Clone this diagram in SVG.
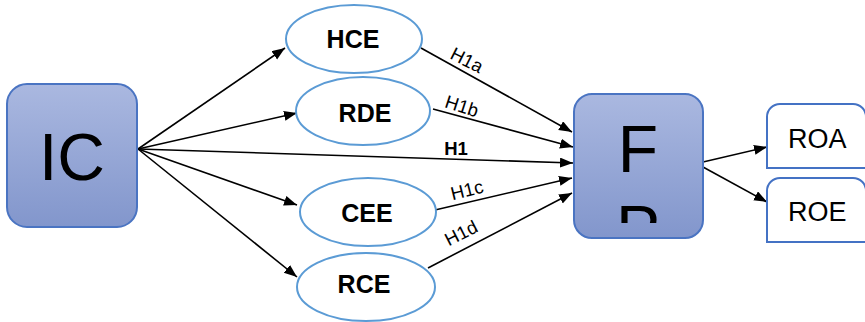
<svg xmlns="http://www.w3.org/2000/svg" width="865" height="322" viewBox="0 0 865 322">
<defs>
<linearGradient id="bg" x1="0" y1="0" x2="0" y2="1">
<stop offset="0" stop-color="#aab8e0"/>
<stop offset="1" stop-color="#8296cc"/>
</linearGradient>
<marker id="ah" markerUnits="userSpaceOnUse" markerWidth="14" markerHeight="12" refX="13" refY="5" orient="auto">
<path d="M0,0 L13,5 L0,10 z" fill="#000"/>
</marker>
<clipPath id="fclip"><rect x="574" y="94" width="130" height="129"/></clipPath>
<style>
.box{fill:url(#bg);stroke:#4a74c2;stroke-width:2}
.ell{fill:#fff;stroke:#5b9bd5;stroke-width:2}
.out{fill:#fff;stroke:#4472c4;stroke-width:2}
.big{font-family:"Liberation Sans",Arial,sans-serif;font-size:66px;fill:#000}
.nl{font-family:"Liberation Sans",Arial,sans-serif;font-size:25px;font-weight:bold;fill:#000;text-anchor:middle}
.ol{font-family:"Liberation Sans",Arial,sans-serif;font-size:27px;fill:#000}
.hl{font-family:"Liberation Sans",Arial,sans-serif;font-size:18.5px;fill:#000;text-anchor:middle}
.cn line{stroke:#000;stroke-width:1.6;marker-end:url(#ah)}
</style>
</defs>
<rect width="865" height="322" fill="#fff"/>
<g class="cn" id="connectors">
<line x1="138" y1="149" x2="285" y2="48"/>
<line x1="138" y1="149" x2="297" y2="113"/>
<line x1="138" y1="149" x2="573" y2="163"/>
<line x1="138" y1="149" x2="297" y2="205"/>
<line x1="138" y1="149" x2="297" y2="277"/>
<line x1="421" y1="48" x2="572" y2="132"/>
<line x1="433" y1="109" x2="573" y2="147"/>
<line x1="435" y1="210" x2="572" y2="178"/>
<line x1="428" y1="268" x2="572" y2="193"/>
<line x1="703" y1="162" x2="767" y2="147"/>
<line x1="703" y1="167" x2="767" y2="202"/>
<text class="hl" transform="translate(467,60) rotate(27)" dominant-baseline="central">H1a</text>
<text class="hl" transform="translate(462,106) rotate(18)" dominant-baseline="central">H1b</text>
<text class="hl" x="456" y="155" font-weight="bold" font-size="19.5">H1</text>
<text class="hl" transform="translate(467,190) rotate(-14)" dominant-baseline="central">H1c</text>
<text class="hl" transform="translate(461,233) rotate(-27)" dominant-baseline="central">H1d</text>
</g>
<g id="IC">
<rect class="box" x="7" y="84" width="130" height="143" rx="20"/>
<text class="big" x="72" y="180" text-anchor="middle">IC</text>
</g>
<g id="HCE">
<ellipse class="ell" cx="354" cy="39" rx="68" ry="34"/>
<text class="nl" x="353" y="48">HCE</text>
</g>
<g id="RDE">
<ellipse class="ell" cx="363" cy="111" rx="67" ry="34"/>
<text class="nl" x="365" y="122">RDE</text>
</g>
<g id="CEE">
<ellipse class="ell" cx="368" cy="212" rx="68" ry="34"/>
<text class="nl" x="367" y="222">CEE</text>
</g>
<g id="RCE">
<ellipse class="ell" cx="366" cy="287" rx="69" ry="34"/>
<text class="nl" x="364" y="293">RCE</text>
</g>
<g id="FP">
<rect class="box" x="574" y="94" width="129" height="144" rx="18"/>
<text class="big" x="638" y="172" text-anchor="middle" font-size="65">F</text>
<text class="big" x="638" y="252" text-anchor="middle" font-size="65" clip-path="url(#fclip)">P</text>
</g>
<g id="ROA">
<path class="out" d="M767,168 V117 A13,13 0 0 1 780,104 H853 A13,13 0 0 1 866,117 V168 Z"/>
<text class="ol" x="788" y="148">ROA</text>
</g>
<g id="ROE">
<path class="out" d="M767,242 V191 A13,13 0 0 1 780,178 H853 A13,13 0 0 1 866,191 V242 Z"/>
<text class="ol" x="788" y="221">ROE</text>
</g>
</svg>
